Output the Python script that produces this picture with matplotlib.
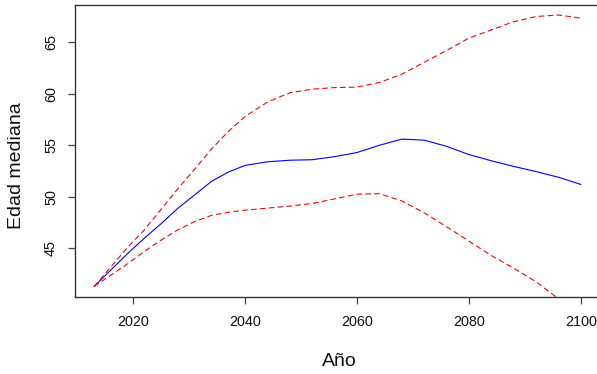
import numpy as np
import matplotlib
matplotlib.use("Agg")
import matplotlib.pyplot as plt

plt.rcParams['font.family'] = ['Liberation Sans', 'DejaVu Sans']

# values
years = [2013, 2016, 2019, 2022, 2025, 2028, 2031, 2034, 2037, 2040, 2044, 2048,
         2052, 2056, 2060, 2064, 2068, 2072, 2076, 2080, 2084, 2088, 2092, 2096, 2100]
median = [41.3, 42.9, 44.5, 46.0, 47.4, 48.9, 50.2, 51.5, 52.4, 53.05, 53.4, 53.55,
          53.6, 53.9, 54.3, 55.0, 55.6, 55.5, 54.9, 54.1, 53.5, 52.95, 52.45, 51.9, 51.2]
upper = [41.3, 43.2, 45.1, 46.8, 48.8, 50.8, 52.7, 54.65, 56.35, 57.8, 59.2, 60.1,
         60.45, 60.6, 60.65, 61.1, 61.9, 63.05, 64.2, 65.4, 66.2, 67.0, 67.5, 67.65, 67.35]
lower = [41.3, 42.4, 43.5, 44.7, 45.8, 46.8, 47.6, 48.2, 48.5, 48.7, 48.9, 49.1,
         49.35, 49.8, 50.25, 50.3, 49.6, 48.45, 47.1, 45.7, 44.3, 43.07, 41.76, 40.1, 38.4]

x_ticks = [2020, 2040, 2060, 2080, 2100]
y_ticks = [45, 50, 55, 60, 65]

W, H = 597, 374
fig = plt.figure(figsize=(W / 100, H / 100), dpi=100)
left, right, top, bottom = 74.7, 600.2, 4.7, 296.7
ax = fig.add_axes([left / W, 1 - bottom / H, (right - left) / W, (bottom - top) / H])

ax.plot(years, median, color='#0000FF', lw=0.8)
ax.plot(years, upper, color='#FF0000', lw=0.8, linestyle=(0, (5, 3)))
ax.plot(years, lower, color='#FF0000', lw=0.8, linestyle=(0, (5, 3)))

ax.set_xlim(2009.52, 2103.48)
ax.set_ylim(40.30, 68.65)
ax.set_xticks(x_ticks)
ax.set_yticks(y_ticks)
ax.set_xticklabels([str(t) for t in x_ticks], fontsize=10.4)
ax.set_yticklabels([str(t) for t in y_ticks], fontsize=10.4, rotation=90, va='center')
ax.tick_params(axis='both', length=5, width=0.9, color='#444444', labelcolor='#111111')
ax.tick_params(axis='x', pad=8)
ax.tick_params(axis='y', pad=7)

for s in ax.spines.values():
    s.set_color('#333333')
    s.set_linewidth(1.0)

fig.text(339 / W, 1 - 362 / H, 'Año', fontsize=14, ha='center', va='center', color='#111111')
fig.text(17 / W, 1 - 166 / H, 'Edad mediana', fontsize=14, ha='center', va='center',
         rotation=90, color='#111111')

fig.savefig('out.png', dpi=100)
